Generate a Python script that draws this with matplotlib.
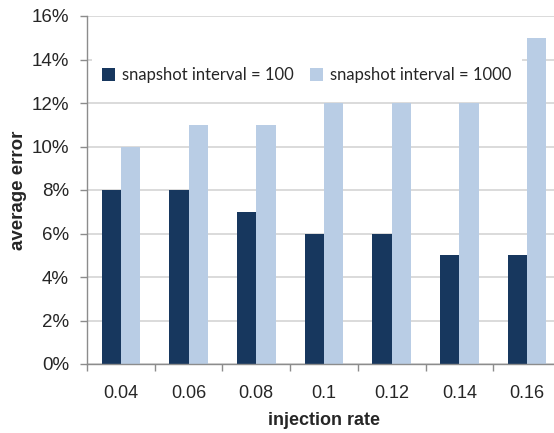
import numpy as np
import matplotlib
matplotlib.use('Agg')
from matplotlib import pyplot as plt
from matplotlib.ticker import FuncFormatter

rates = ['0.04', '0.06', '0.08', '0.1', '0.12', '0.14', '0.16']
err_100 = [8, 8, 7, 6, 6, 5, 5]
err_1000 = [10, 11, 11, 12, 12, 12, 15]
yticks = [0, 2, 4, 6, 8, 10, 12, 14, 16]

dark = '#17375E'
light = '#B9CDE5'
grid = '#D4D4D4'
axis_gray = '#8C8C8C'
txt = '#262626'
font = 'Liberation Sans'

fig = plt.figure(figsize=(5.54, 4.33), dpi=100)
ax = fig.add_axes([87/554, 69/433, 474/554, 348/433])

x = np.arange(len(rates))
w = 0.285
ax.bar(x - w/2, err_100, w, color=dark, label='snapshot interval = 100', zorder=3)
ax.bar(x + w/2, err_1000, w, color=light, label='snapshot interval = 1000', zorder=3)

ax.set_xlim(-0.5, len(rates) - 0.5)
ax.set_ylim(0, 16)
ax.set_yticks(yticks)
ax.yaxis.set_major_formatter(FuncFormatter(lambda v, p: '%d%%' % v))
ax.grid(axis='y', color=grid, linewidth=1.2, zorder=0)

# category labels at centers, tick marks on the boundaries
ax.set_xticks(x)
ax.set_xticklabels(rates)
ax.set_xticks(np.arange(len(rates) + 1) - 0.5, minor=True)
ax.tick_params(axis='x', which='major', length=0, pad=15, labelsize=13, labelcolor=txt)
ax.tick_params(axis='x', which='minor', length=5, width=1, color=axis_gray)
ax.tick_params(axis='y', length=5, width=1, color=axis_gray, pad=8, labelsize=13.5, labelcolor=txt)

for s in ['top', 'right']:
    ax.spines[s].set_visible(False)
for s in ['left', 'bottom']:
    ax.spines[s].set_color(axis_gray)
    ax.spines[s].set_linewidth(1)
    ax.spines[s].set_zorder(4)

for lab in ax.get_xticklabels() + ax.get_yticklabels():
    lab.set_family(font)

ax.set_xlabel('injection rate', fontsize=13, fontweight='bold', family=font, color=txt, va='center')
ax.xaxis.set_label_coords(0.5, -0.161)
ax.set_ylabel('average error', fontsize=13.5, fontweight='bold', family=font, color=txt, va='center')
ax.yaxis.set_label_coords(-0.145, 0.5)

leg = ax.legend(ncol=2, loc='center left', bbox_to_anchor=(0.01, 0.83),
                prop={'family': 'Lato', 'size': 12}, frameon=True, fancybox=False,
                handlelength=0.8, handleheight=0.8, handletextpad=0.4, columnspacing=1.0,
                borderpad=0.6, borderaxespad=0)
leg.get_frame().set_facecolor('white')
leg.get_frame().set_edgecolor('none')
leg.get_frame().set_alpha(1)
for t in leg.get_texts():
    t.set_color(txt)

fig.savefig('out.png', dpi=100)
